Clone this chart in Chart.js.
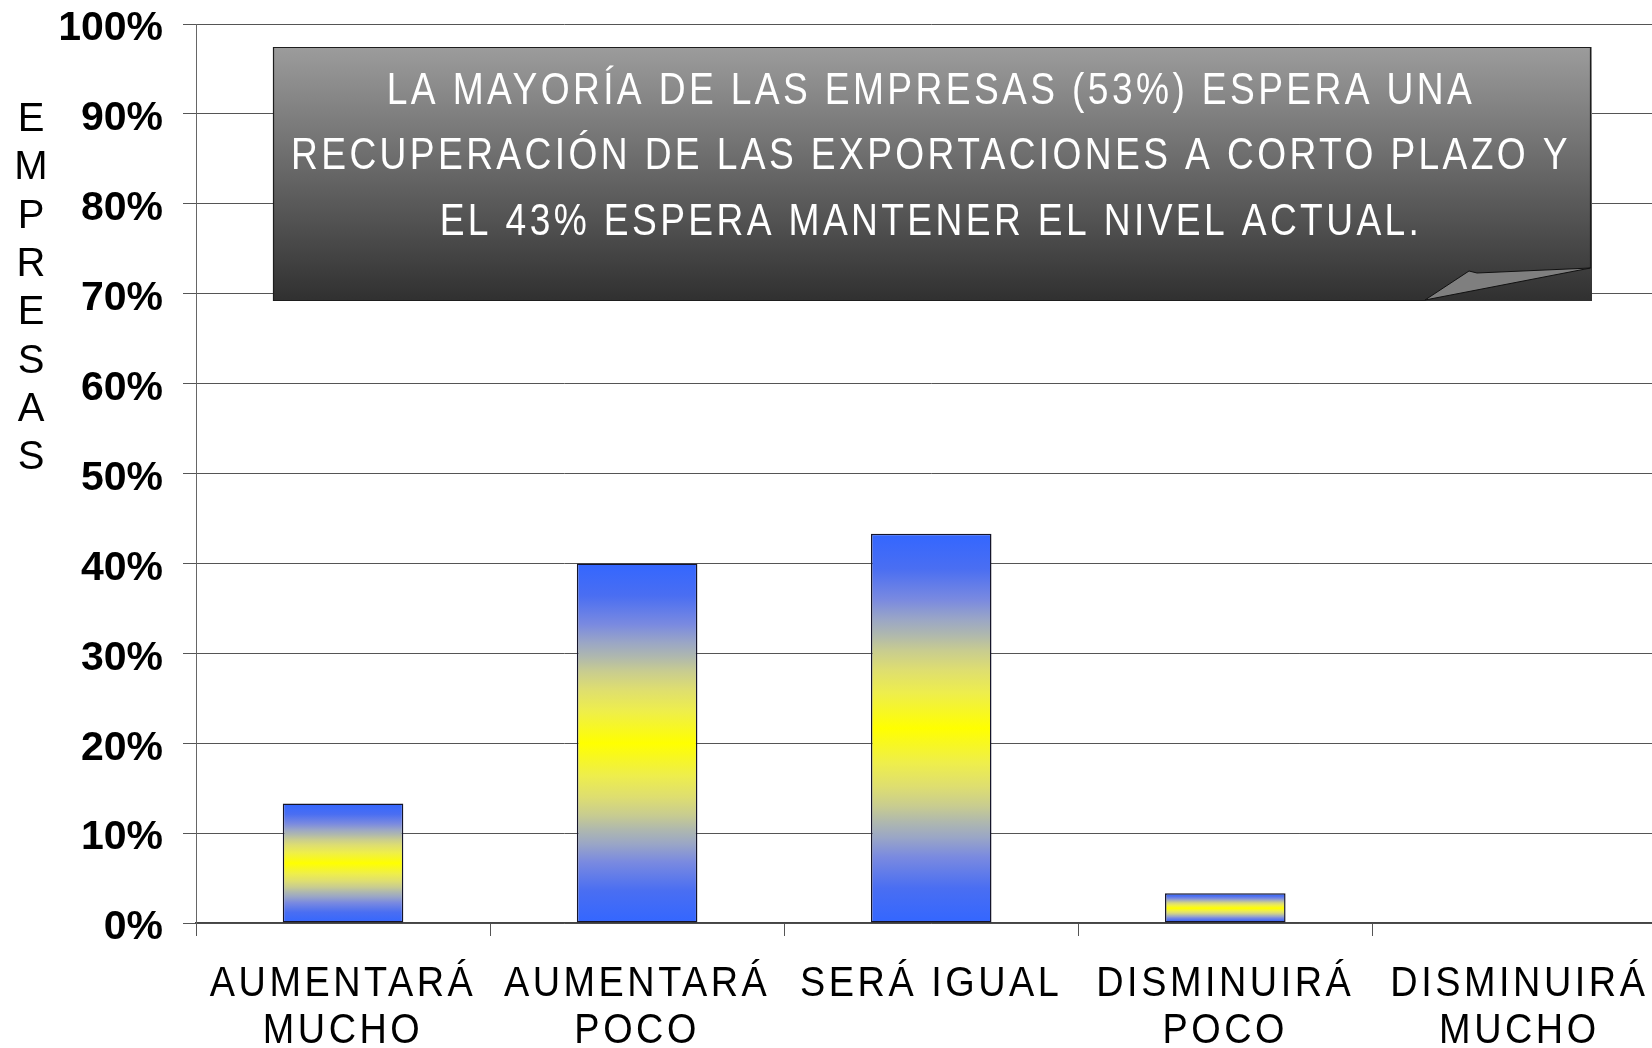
<!DOCTYPE html>
<html lang="es">
<head>
<meta charset="utf-8">
<title>Expectativas de exportación</title>
<script src="https://cdn.jsdelivr.net/npm/chart.js@4.4.1/dist/chart.umd.min.js"></script>
<style>
  html, body { margin: 0; padding: 0; background: #fff; overflow: hidden; }
  #wrap { position: relative; width: 1670px; height: 1048px; }
</style>
</head>
<body>
<div id="wrap"><canvas id="chart"></canvas></div>
<script>
const categories = [
  ['AUMENTARÁ', 'MUCHO'],
  ['AUMENTARÁ', 'POCO'],
  'SERÁ IGUAL',
  ['DISMINUIRÁ', 'POCO'],
  ['DISMINUIRÁ', 'MUCHO'],
];
const shares = [13.3, 40.0, 43.3, 3.3, 0];
const yTickValues = [0, 10, 20, 30, 40, 50, 60, 70, 80, 90, 100];
const axisTitle = 'EMPRESAS';
const calloutLines = [
  'LA MAYORÍA DE LAS EMPRESAS (53%) ESPERA UNA',
  'RECUPERACIÓN DE LAS EXPORTACIONES A CORTO PLAZO Y',
  'EL 43% ESPERA MANTENER EL NIVEL ACTUAL.',
];

const FONT = "'Liberation Sans', Arial, sans-serif";
const BLUE = '#3366ff';
// blue -> yellow -> blue, top to bottom of each bar
const barStops = [
  [0, '#3366ff'], [0.09, '#4a6ef2'], [0.17, '#7a8ae0'], [0.22, '#9aa6c6'],
  [0.26, '#afb8ae'], [0.30, '#c8cc90'], [0.35, '#dede70'], [0.41, '#eeee4c'],
  [0.50, '#ffff00'],
  [0.59, '#eeee4c'], [0.65, '#dede70'], [0.70, '#c8cc90'], [0.74, '#afb8ae'],
  [0.78, '#9aa6c6'], [0.83, '#7a8ae0'], [0.91, '#4a6ef2'], [1, '#3366ff'],
];

Chart.defaults.font.family = FONT;
Chart.defaults.color = '#000';

function barFill(ctx) {
  const chart = ctx.chart;
  if (!chart.chartArea || ctx.type !== 'data') return BLUE;
  const y = chart.scales.y;
  const top = y.getPixelForValue(ctx.parsed.y);
  const bottom = y.getPixelForValue(0);
  if (bottom - top < 1) return BLUE;
  const g = chart.ctx.createLinearGradient(0, top, 0, bottom);
  barStops.forEach(([at, c]) => g.addColorStop(at, c));
  return g;
}

// tweak how a scale's tick labels are painted: letter spacing, horizontal squeeze, nudge down
function restyleLabels(chart, scale, spacing, sx, dy) {
  if (scale._restyled) return;
  const orig = scale.drawLabels.bind(scale);
  scale.drawLabels = (area) => {
    const c = chart.ctx;
    const fill = c.fillText;
    c.save();
    c.letterSpacing = spacing;
    c.fillText = function (t, x, y) {
      this.save();
      this.translate(x, y + dy);
      this.scale(sx, 1);
      fill.call(this, t, 0, 0);
      this.restore();
    };
    orig(area);
    delete c.fillText;
    c.restore();
  };
  scale._restyled = true;
}

const labelStyle = {
  id: 'labelStyle',
  beforeDraw(chart) {
    restyleLabels(chart, chart.scales.x, '4px', 0.88, 0);
    restyleLabels(chart, chart.scales.y, '0px', 1, 5);
  },
};

// stacked vertical axis title
const stackedTitle = {
  id: 'stackedTitle',
  afterDraw(chart) {
    const c = chart.ctx;
    c.save();
    c.font = '40px ' + FONT;
    c.fillStyle = '#000';
    c.textAlign = 'center';
    c.textBaseline = 'middle';
    axisTitle.split('').forEach((ch, i) => c.fillText(ch, 31, 120 + i * 48.3));
    c.restore();
  },
};

// grey note box with a curled corner
const callout = {
  id: 'callout',
  afterDraw(chart) {
    const c = chart.ctx;
    const L = 273, T = 47, R = 1592, B = 301;
    c.save();
    const g = c.createLinearGradient(0, T, 0, B);
    g.addColorStop(0, '#9c9c9c');
    g.addColorStop(0.5, '#666666');
    g.addColorStop(1, '#303030');
    c.fillStyle = g;
    c.fillRect(L, T, R - L, B - T);

    c.strokeStyle = '#1e1e1e';
    c.lineWidth = 1.2;
    c.beginPath();
    c.moveTo(1425, B - 0.5);
    c.lineTo(L + 0.5, B - 0.5);
    c.lineTo(L + 0.5, T + 0.5);
    c.lineTo(R - 1.5, T + 0.5);
    c.lineTo(R - 1.5, 268);
    c.stroke();

    // folded flap
    c.beginPath();
    c.moveTo(1425, 300);
    c.lineTo(1469, 271);
    c.lineTo(1477, 273);
    c.lineTo(R - 1.5, 268);
    c.closePath();
    c.fillStyle = '#7f7f7f';
    c.fill();
    c.strokeStyle = '#111';
    c.lineWidth = 1;
    c.stroke();

    c.fillStyle = '#fff';
    c.font = '44px ' + FONT;
    c.letterSpacing = '4px';
    c.textAlign = 'center';
    c.textBaseline = 'alphabetic';
    const sx = 1280 / c.measureText(calloutLines[1]).width;
    const cx = 931;
    const baselines = [104, 169, 234.5];
    calloutLines.forEach((line, i) => {
      c.save();
      c.translate(cx, baselines[i]);
      c.scale(sx, 1);
      c.fillText(line, 0, 0);
      c.restore();
    });
    c.restore();
  },
};

new Chart(document.getElementById('chart'), {
  type: 'bar',
  data: {
    labels: categories,
    datasets: [{
      data: shares,
      backgroundColor: barFill,
      borderColor: '#15152a',
      borderWidth: 1.5,
      borderSkipped: false,
      categoryPercentage: 1,
      barPercentage: 0.41,
    }],
  },
  options: {
    responsive: true,
    maintainAspectRatio: false,
    animation: false,
    events: [],
    layout: { padding: { left: 61, top: 0, right: 0, bottom: 0 } },
    plugins: {
      legend: { display: false },
      tooltip: { enabled: false },
    },
    scales: {
      x: {
        offset: true,
        grid: { offset: true, drawOnChartArea: false, drawTicks: true, tickLength: 13, color: '#555' },
        border: { color: '#444', width: 1.5 },
        ticks: {
          color: '#000',
          font: { size: 43, lineHeight: 1.1 },
          padding: 24,
          maxRotation: 0,
          autoSkip: false,
        },
        afterFit: s => { s.height = 125; },
      },
      y: {
        min: 0,
        max: 100,
        afterBuildTicks: axis => { axis.ticks = yTickValues.map(v => ({ value: v })); },
        grid: { color: '#555', lineWidth: 1, tickLength: 13 },
        border: { color: '#666' },
        ticks: {
          color: '#000',
          font: { size: 41, weight: 'bold' },
          padding: 20,
          callback: v => v + '%',
        },
        afterFit: s => { s.width = 135; s.paddingTop = 24; },
      },
    },
  },
  plugins: [labelStyle, stackedTitle, callout],
});
</script>
</body>
</html>
